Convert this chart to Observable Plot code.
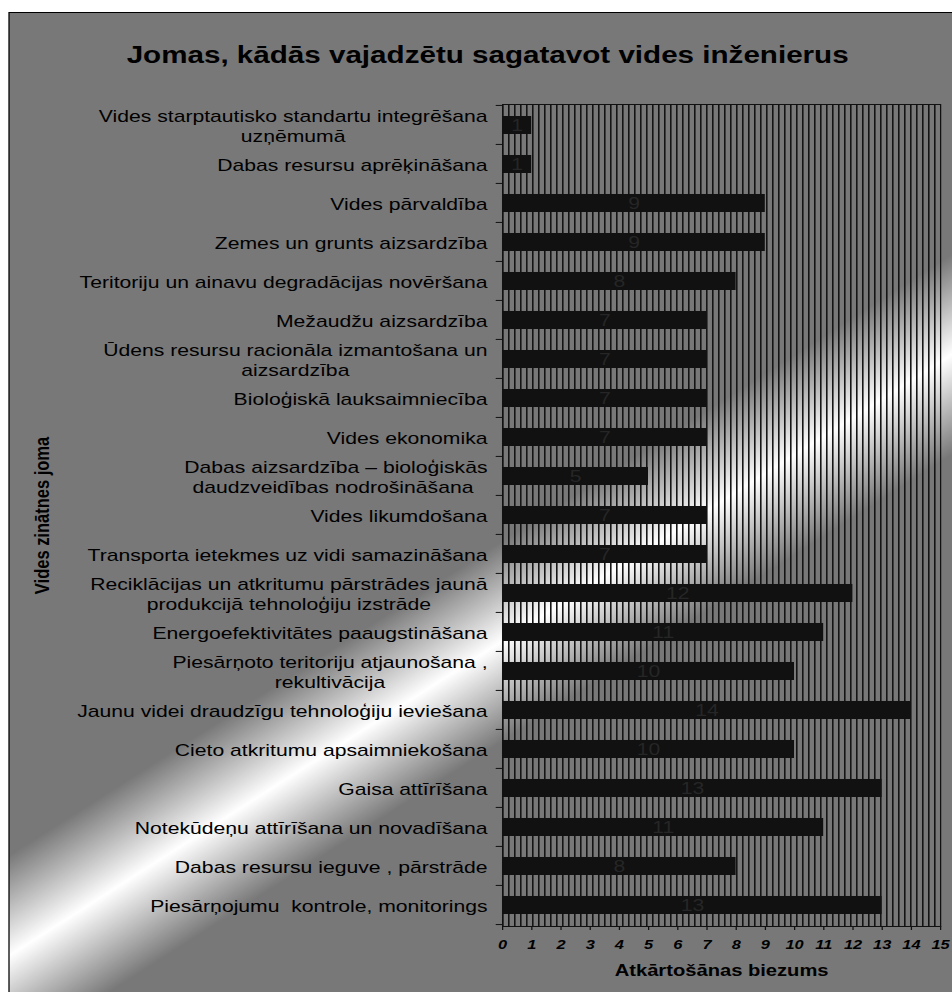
<!DOCTYPE html>
<html><head><meta charset="utf-8">
<script src="https://cdn.jsdelivr.net/npm/d3@7"></script>
<script src="https://cdn.jsdelivr.net/npm/@observablehq/plot@0.6"></script>
<style>
html,body{margin:0;padding:0;background:#fff;overflow:hidden;}
#wrap{transform-origin:0 0;width:952px;height:992px;}
</style></head><body><div id="wrap"></div>
<script>
const categories = [
  "Vides starptautisko standartu integrēšana\nuzņēmumā",
  "Dabas resursu aprēķināšana",
  "Vides pārvaldība",
  "Zemes un grunts aizsardzība",
  "Teritoriju un ainavu degradācijas novēršana",
  "Mežaudžu aizsardzība",
  "Ūdens resursu racionāla izmantošana un\naizsardzība",
  "Bioloģiskā lauksaimniecība",
  "Vides ekonomika",
  "Dabas aizsardzība – bioloģiskās\ndaudzveidības nodrošināšana ",
  "Vides likumdošana",
  "Transporta ietekmes uz vidi samazināšana",
  "Reciklācijas un atkritumu pārstrādes jaunā\nprodukcijā tehnoloģiju izstrāde",
  "Energoefektivitātes paaugstināšana",
  "Piesārņoto teritoriju atjaunošana ,\nrekultivācija",
  "Jaunu videi draudzīgu tehnoloģiju ieviešana",
  "Cieto atkritumu apsaimniekošana",
  "Gaisa attīrīšana",
  "Notekūdeņu attīrīšana un novadīšana",
  "Dabas resursu ieguve , pārstrāde",
  "Piesārņojumu  kontrole, monitorings"
];
const values = [1, 1, 9, 9, 8, 7, 7, 7, 7, 5, 7, 7, 12, 11, 10, 14, 10, 13, 11, 8, 13];
const xTicks = [0, 1, 2, 3, 4, 5, 6, 7, 8, 9, 10, 11, 12, 13, 14, 15];
const xDomain = [0, 15];
const titleText = "Jomas, kādās vajadzētu sagatavot vides inženierus";
const xTitle = "Atkārtošānas biezums";
const yTitle = "Vides zinātnes joma";

const S = 1.2593;           // horizontal stretch of the original picture
const W = 952 / S;
const H = 992;
const mTop = 104, mBottom = 66, mLeft = 502 / S, mRight = 12 / S;
const font = "'Liberation Sans', Arial, Helvetica, sans-serif";
const data = categories.map((cat, i) => ({cat, value: values[i]}));
const NS = "http://www.w3.org/2000/svg";
function el(tag, attrs = {}) {
  const e = document.createElementNS(NS, tag);
  for (const k in attrs) e.setAttribute(k, attrs[k]);
  return e;
}

// background: grey with a diagonal light band, black border
const background = (index, scales, vals, dim) => {
  const g = el("g");
  const defs = el("defs");
  const grad = el("linearGradient", {id: "bandGrad", gradientUnits: "userSpaceOnUse",
    x1: 329, y1: 597, x2: 427, y2: 719});
  [["0", "#787878"], ["0.5", "#ffffff"], ["1", "#787878"]].forEach(([o, c]) =>
    grad.appendChild(el("stop", {offset: o, "stop-color": c})));
  defs.appendChild(grad);
  const pat = el("pattern", {id: "vlines", patternUnits: "userSpaceOnUse",
    x: dim.marginLeft, y: 0, width: 6 / S, height: 10});
  pat.appendChild(el("rect", {x: 0, y: 0, width: 1.6 / S, height: 10, fill: "#141414"}));
  defs.appendChild(pat);
  g.appendChild(defs);
  g.appendChild(el("rect", {x: 0, y: 0, width: dim.width, height: dim.height, fill: "#fff"}));
  g.appendChild(el("rect", {x: 9 / S, y: 12.5, width: dim.width + 10, height: dim.height + 10,
    fill: "url(#bandGrad)", stroke: "#000", "stroke-width": 1}));
  return g;
};

// vertical-line pattern of the plot area
const plotPattern = (index, scales, vals, dim) => {
  return el("rect", {x: dim.marginLeft, y: dim.marginTop,
    width: dim.width - dim.marginLeft - dim.marginRight,
    height: dim.height - dim.marginTop - dim.marginBottom, fill: "url(#vlines)"});
};

// y ticks at category boundaries (Excel style)
const yTicksMark = (index, scales, vals, dim) => {
  const g = el("g", {stroke: "#111", "stroke-width": 1});
  const y = scales.y, bw = y.bandwidth();
  const step = (dim.height - dim.marginTop - dim.marginBottom) / categories.length;
  const x0 = scales.x(xDomain[0]);
  const ys = categories.map(c => y(c) + bw / 2 - step / 2);
  ys.push(y(categories[categories.length - 1]) + bw / 2 + step / 2);
  ys.forEach(v => g.appendChild(el("line", {x1: x0 - 5, x2: x0, y1: v, y2: v})));
  return g;
};

const chart = Plot.plot({
  width: W, height: H,
  marginTop: mTop, marginBottom: mBottom, marginLeft: mLeft, marginRight: mRight,
  style: {background: "transparent", fontFamily: font, color: "#000", overflow: "visible"},
  x: {domain: xDomain, ticks: xTicks},
  y: {domain: categories, paddingInner: 0.54, paddingOuter: 0.27, axis: null},
  marks: [
    background,
    plotPattern,
    Plot.barX(data, {x: "value", y: "cat", fill: "#111111"}),
    Plot.text(data, {x: d => d.value / 2, y: "cat", text: d => String(d.value),
      fill: "#262626", fontSize: 16.8}),
    Plot.frame({stroke: "#111", strokeWidth: 1}),
    yTicksMark,
    Plot.text(data, {y: "cat", text: "cat", frameAnchor: "left", dx: -12 , textAnchor: "end",
      lineAnchor: "middle", lineHeight: 1.18, fontSize: 16.8, fill: "#000", className: "ylab"}),
    Plot.axisX({ticks: xTicks, tickSize: 4, tickPadding: 9, fontSize: 13, fontWeight: "bold",
      fontStyle: "italic", label: null, stroke: "#111"}),
    Plot.text([titleText], {frameAnchor: "top", lineAnchor: "middle", dx: (487 - 721) / S, dy: -49.5,
      fontSize: 23.5, fontWeight: "bold", fill: "#000"}),
    Plot.text([xTitle], {frameAnchor: "bottom", lineAnchor: "middle", dy: 44,
      fontSize: 16, fontWeight: "bold", fill: "#000"}),
    Plot.text([yTitle], {frameAnchor: "left", lineAnchor: "middle", textAnchor: "middle", rotate: -90,
      dx: 33.4 - mLeft, fontSize: 16.5, fontWeight: "bold", fill: "#000"})
  ]
});

const wrap = document.getElementById("wrap");
wrap.style.transform = `scaleX(${S})`;
wrap.appendChild(chart);

// centre the lines of wrapped labels inside their right-aligned block
chart.querySelectorAll("g.ylab text").forEach(t => {
  const spans = t.querySelectorAll("tspan");
  if (spans.length < 2) return;
  const m = Math.max(...Array.from(spans, s => s.getComputedTextLength()));
  t.setAttribute("text-anchor", "middle");
  spans.forEach(s => {
    const x0 = +(s.getAttribute("x") || 0);
    s.setAttribute("x", x0 - m / 2);
  });
});
</script></body></html>
